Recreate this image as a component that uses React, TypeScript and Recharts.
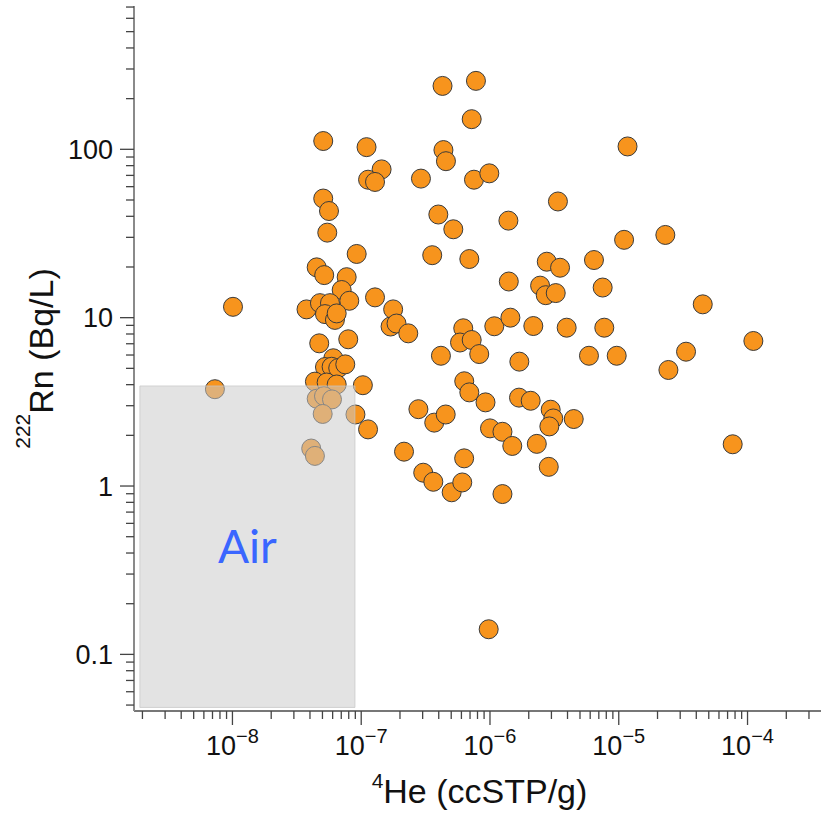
import { ScatterChart, Scatter, XAxis, YAxis, ReferenceArea, Label } from 'recharts';

// 4He (ccSTP/g)
const heValues = [
  4.28e-7, 7.78e-7, 7.21e-7, 5.07e-8, 1.1e-7, 4.35e-7, 4.55e-7, 1.44e-7, 1.13e-7, 1.28e-7,
  2.91e-7, 7.51e-7, 9.88e-7, 1.17e-5, 5.07e-8, 5.62e-8, 5.45e-8, 3.97e-7, 5.19e-7, 1.39e-6,
  3.37e-6, 1.1e-5, 2.3e-5, 9.22e-8, 3.56e-7, 6.91e-7, 2.76e-6, 3.5e-6, 6.42e-6, 1.4e-6,
  2.45e-6, 2.71e-6, 3.24e-6, 7.5e-6, 4.49e-5, 4.51e-8, 5.16e-8, 7.71e-8, 7.05e-8, 8.08e-8,
  1.28e-7, 1.01e-8, 3.76e-8, 4.78e-8, 5.72e-8, 5.23e-8, 6.25e-8, 6.45e-8, 1.77e-7, 1.69e-7,
  1.88e-7, 2.32e-7, 4.72e-8, 7.93e-8, 6.07e-8, 5.23e-8, 5.89e-8, 6.63e-8, 7.52e-8, 4.37e-8,
  5.39e-8, 6.45e-8, 1.03e-7, 6.2e-7, 5.85e-7, 7.21e-7, 8.25e-7, 4.16e-7, 1.08e-6, 1.44e-6,
  2.17e-6, 3.94e-6, 7.72e-6, 1.69e-6, 5.87e-6, 9.64e-6, 3.33e-5, 2.43e-5, 1.11e-4, 6.31e-7,
  6.91e-7, 9.23e-7, 1.68e-6, 2.07e-6, 2.96e-6, 3.1e-6, 2.89e-6, 4.47e-6, 2.78e-7, 3.69e-7,
  4.53e-7, 1.0e-6, 1.25e-6, 1.49e-6, 2.31e-6, 2.86e-6, 2.15e-7, 6.3e-7, 3.03e-7, 3.63e-7,
  5.04e-7, 6.09e-7, 1.25e-6, 7.67e-5, 9.77e-7, 7.31e-9, 4.51e-8, 5.14e-8, 5.93e-8, 5.02e-8,
  9.02e-8, 4.09e-8, 4.37e-8, 1.13e-7,
];

// 222Rn (Bq/L)
const rnValues = [
  238, 255, 151, 112, 103, 99, 85, 76, 66, 64,
  67, 66, 72, 104, 51, 43, 32, 41, 33.5, 37.7,
  49, 29, 31, 23.9, 23.5, 22.3, 21.5, 19.8, 22, 16.4,
  15.5, 13.6, 14, 15.1, 12, 19.9, 17.9, 17.4, 14.6, 12.6,
  13.2, 11.6, 11.2, 12.2, 12.2, 10.5, 9.7, 10.6, 11.2, 8.86,
  9.23, 8.07, 7.04, 7.44, 5.74, 5.09, 5.11, 5.02, 5.28, 4.17,
  4.12, 4.01, 3.97, 8.65, 7.12, 7.37, 6.08, 5.94, 8.89, 10.0,
  8.92, 8.72, 8.72, 5.48, 5.94, 5.94, 6.28, 4.89, 7.27, 4.19,
  3.6, 3.14, 3.35, 3.21, 2.84, 2.52, 2.26, 2.5, 2.86, 2.38,
  2.66, 2.2, 2.1, 1.73, 1.78, 1.3, 1.6, 1.46, 1.2, 1.06,
  0.918, 1.05, 0.896, 1.77, 0.141, 3.76, 3.3, 3.42, 3.27, 2.68,
  2.66, 1.67, 1.51, 2.17,
];

const xDomain = [1.72e-9, 3.72e-4];
const yDomain = [0.0461, 710];
const xDecades = [-9, -8, -7, -6, -5, -4];
const yDecades = [-2, -1, 0, 1, 2];
const yTickLabels: Record<number, string> = { [-1]: '0.1', 0: '1', 1: '10', 2: '100' };

// air box
const airX = [1.91e-9, 8.94e-8];
const airY = [0.0484, 3.93];

const FONT = '"Liberation Sans", Arial, Helvetica, sans-serif';
const W = 821;
const H = 813;
const MARGIN = { top: 6, right: 0, bottom: 0, left: 0 };

const data = heValues.map((he, i) => ({ he, rn: rnValues[i] }));

function logTicks(decades: number[], domain: number[]) {
  const out: number[] = [];
  decades.forEach((d) => {
    for (let m = 1; m <= 9; m++) {
      const v = m * Math.pow(10, d);
      if (v >= domain[0] && v <= domain[1]) out.push(v);
    }
  });
  return out;
}

const xTicks = logTicks(xDecades, xDomain);
const yTicks = logTicks(yDecades, yDomain);

const isMajor = (v: number) => {
  const l = Math.log10(v);
  return Math.abs(l - Math.round(l)) < 1e-6;
};

function XTick(props: any) {
  const { x, y, payload } = props;
  const v = payload.value;
  const major = isMajor(v);
  const e = Math.round(Math.log10(v));
  return (
    <g>
      <line x1={x} x2={x} y1={y} y2={y + (major ? 14 : 8)} stroke="#444" strokeWidth={1.3} />
      {major && (
        <text x={x} y={y + 44} textAnchor="middle" fontFamily={FONT} fill="#111">
          <tspan fontSize={27}>10</tspan>
          <tspan fontSize={20} dy={-12}>{'\u2212' + -e}</tspan>
        </text>
      )}
    </g>
  );
}

function YTick(props: any) {
  const { x, y, payload } = props;
  const v = payload.value;
  const major = isMajor(v);
  const e = Math.round(Math.log10(v));
  return (
    <g>
      <line x1={x - (major ? 14 : 8)} x2={x} y1={y} y2={y} stroke="#444" strokeWidth={1.3} />
      {major && yTickLabels[e] && (
        <text x={x - 21} y={y} dy="0.36em" textAnchor="end" fontFamily={FONT} fontSize={27} fill="#111">
          {yTickLabels[e]}
        </text>
      )}
    </g>
  );
}

function XTitle(props: any) {
  const { viewBox } = props;
  const cx = viewBox.x + viewBox.width / 2 + 2;
  const y = viewBox.y + 92;
  return (
    <text x={cx} y={y} textAnchor="middle" fontFamily={FONT} fill="#111">
      <tspan fontSize={21} dy={-15}>4</tspan>
      <tspan fontSize={34} dy={15}>He (ccSTP/g)</tspan>
    </text>
  );
}

function YTitle(props: any) {
  const { viewBox } = props;
  const x = viewBox.x + 53;
  const cy = viewBox.y + viewBox.height / 2;
  return (
    <text x={x} y={cy} textAnchor="middle" fontFamily={FONT} fill="#111" transform={`rotate(-90, ${x}, ${cy})`}>
      <tspan fontSize={21} dy={-23}>222</tspan>
      <tspan fontSize={34} dy={23}>Rn (Bq/L)</tspan>
    </text>
  );
}

const Dot = (props: any) => (
  <circle cx={props.cx} cy={props.cy} r={9.5} fill="#f7941d" stroke="#3a3a3a" strokeWidth={1} />
);

const NoDot = () => <g />;

export default function App() {
  return (
    <div style={{ position: 'absolute', left: 0, top: 0, width: W, height: H, background: '#fff' }}>
      <ScatterChart width={W} height={H} margin={MARGIN}>
        <XAxis
          xAxisId="top"
          orientation="top"
          type="number"
          dataKey="he"
          scale="log"
          domain={xDomain}
          allowDataOverflow
          height={0}
          tick={false}
          tickLine={false}
          axisLine={{ stroke: '#8a8a8a', strokeWidth: 2 }}
        />
        <XAxis
          type="number"
          dataKey="he"
          scale="log"
          domain={xDomain}
          allowDataOverflow
          ticks={xTicks}
          interval={0}
          height={102}
          tickSize={0}
          tickMargin={0}
          tickLine={false}
          tick={<XTick />}
          axisLine={{ stroke: '#777', strokeWidth: 2 }}
        >
          <Label content={<XTitle />} />
        </XAxis>
        <YAxis
          type="number"
          dataKey="rn"
          scale="log"
          domain={yDomain}
          allowDataOverflow
          ticks={yTicks}
          interval={0}
          width={134}
          tickSize={0}
          tickMargin={0}
          tickLine={false}
          tick={<YTick />}
          axisLine={{ stroke: '#8a8a8a', strokeWidth: 2 }}
        >
          <Label content={<YTitle />} />
        </YAxis>
        <Scatter data={data} shape={<Dot />} isAnimationActive={false} />
      </ScatterChart>

      {/* same layout again, on top, so the air box shades the points under it */}
      <div style={{ position: 'absolute', left: 0, top: 0, pointerEvents: 'none' }}>
        <ScatterChart width={W} height={H} margin={MARGIN}>
          <XAxis
            xAxisId="top"
            orientation="top"
            type="number"
            dataKey="he"
            scale="log"
            domain={xDomain}
            allowDataOverflow
            height={0}
            tick={false}
            tickLine={false}
            axisLine={false}
          />
          <XAxis
            type="number"
            dataKey="he"
            scale="log"
            domain={xDomain}
            allowDataOverflow
            height={102}
            tick={false}
            tickLine={false}
            axisLine={false}
          />
          <YAxis
            type="number"
            dataKey="rn"
            scale="log"
            domain={yDomain}
            allowDataOverflow
            width={134}
            tick={false}
            tickLine={false}
            axisLine={false}
          />
          <Scatter data={data} shape={<NoDot />} isAnimationActive={false} />
          <ReferenceArea
            x1={airX[0]}
            x2={airX[1]}
            y1={airY[0]}
            y2={airY[1]}
            fill="#cacaca"
            fillOpacity={0.53}
            stroke="#c4c4c4"
            strokeOpacity={0.7}
            label={{ value: 'Air', position: 'center', fill: '#3a66ff', fontSize: 46, fontFamily: 'Lato, "Noto Sans", sans-serif' }}
          />
        </ScatterChart>
      </div>
    </div>
  );
}
